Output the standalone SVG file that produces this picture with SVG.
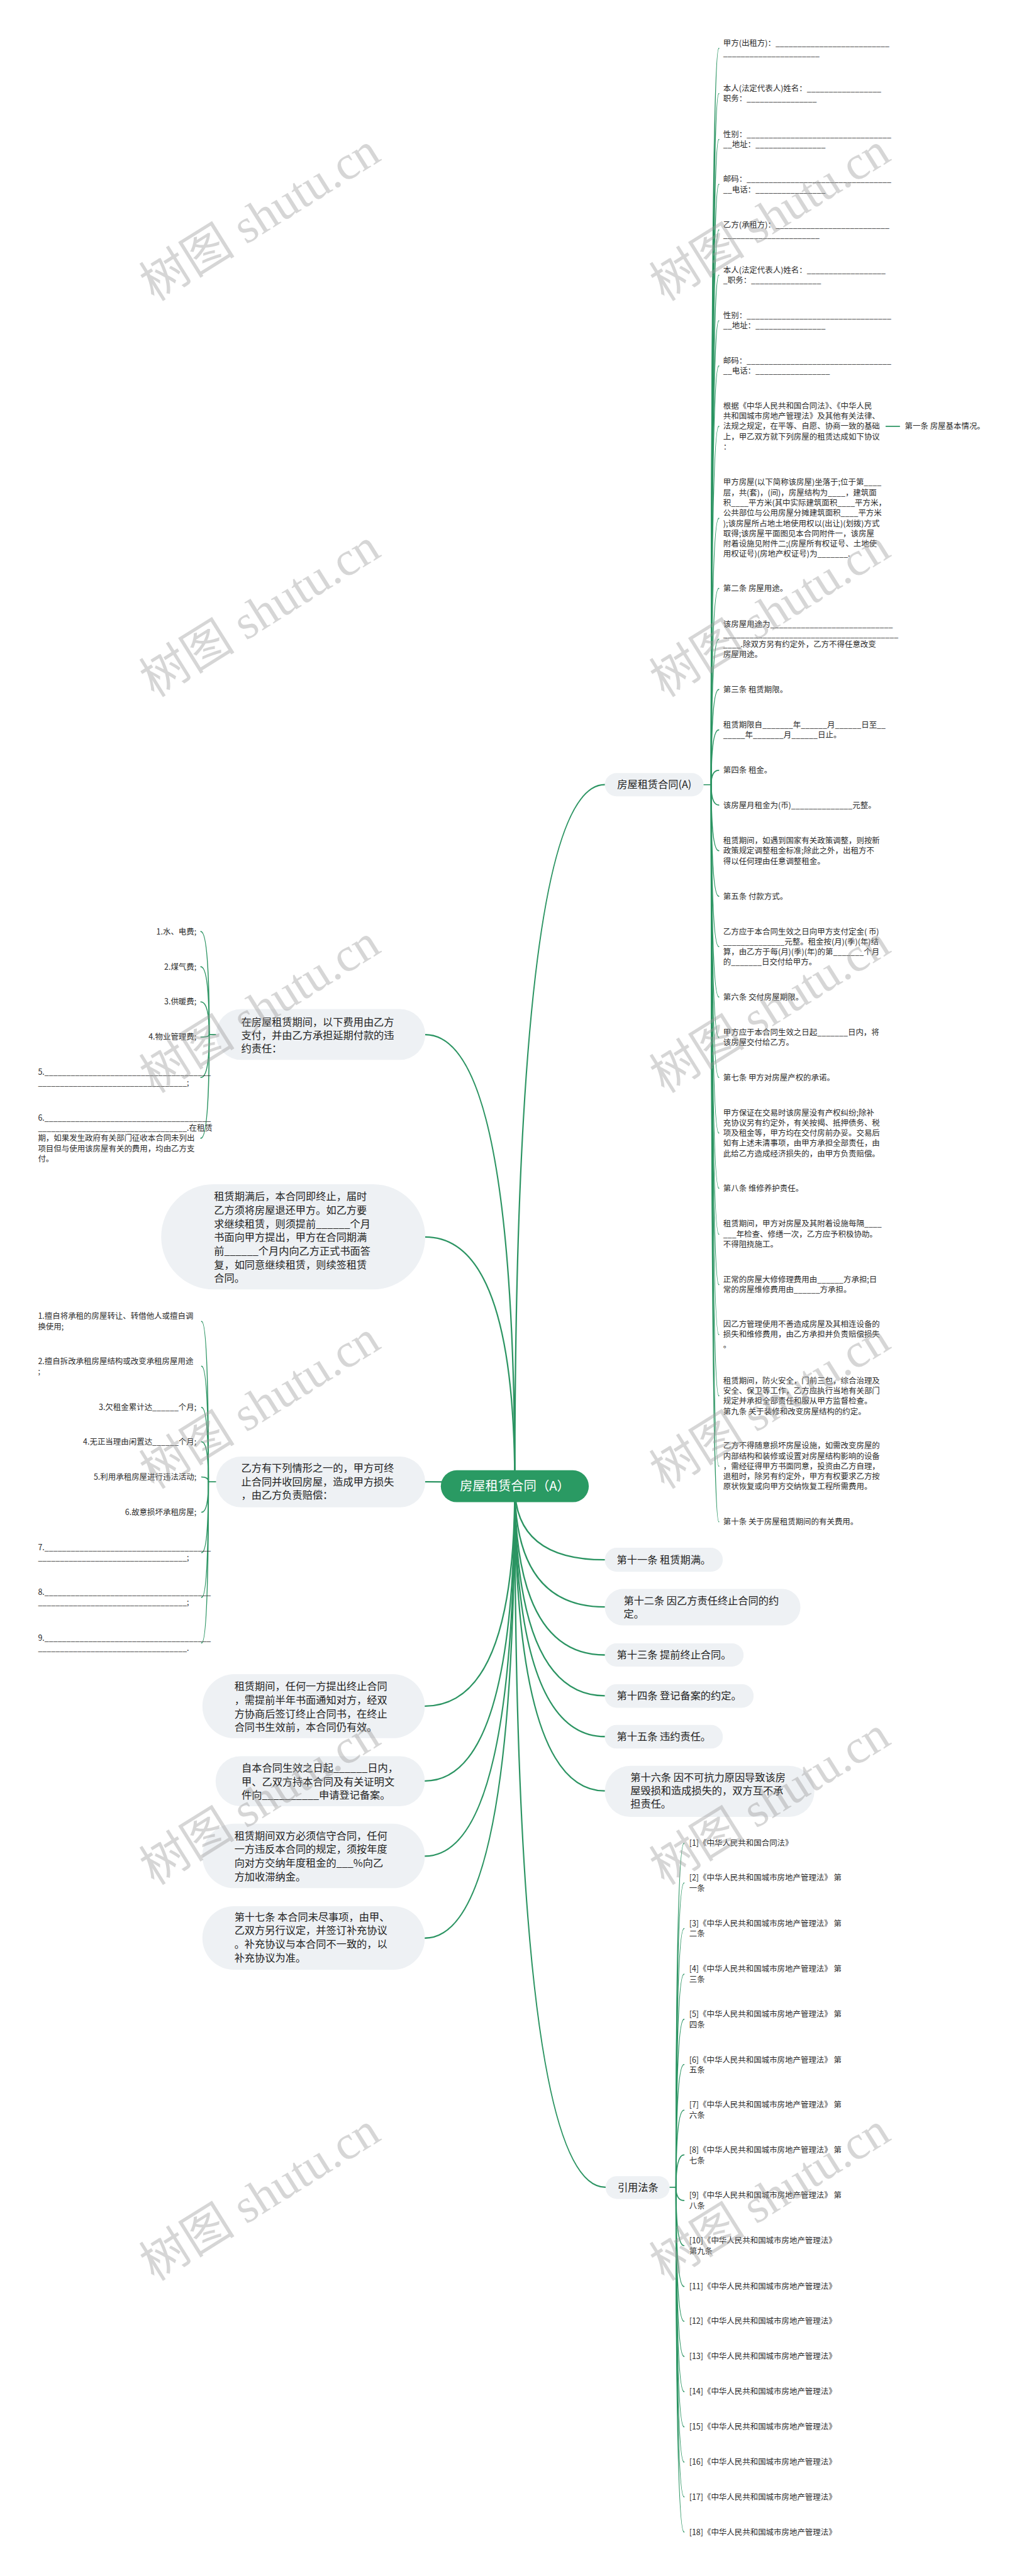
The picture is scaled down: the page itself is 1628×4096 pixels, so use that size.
<svg xmlns="http://www.w3.org/2000/svg" width="1628" height="4096" viewBox="0 0 1628 4096">
<style>
text{font-family:"Noto Sans CJK SC","Noto Sans",sans-serif}
.s{font-size:19.6px;fill:#2b2b2b}
.p{font-size:25.5px;fill:#222}
.pill{fill:#eef1f4}
.c{fill:none;stroke:#2b9462;stroke-width:2.6;stroke-linecap:round}
.cr{fill:none;stroke:#2b9462;stroke-width:3.6;stroke-linecap:round}
#watermarks text{font-family:"Liberation Serif","Noto Sans CJK SC",serif;font-size:120px;fill:#9a9a9a;opacity:0.4}
</style>
<rect width="1628" height="4096" fill="#ffffff"/>
<g transform="scale(0.6359375)">
<g id="connectors">
<path class="cr" d="M1287 3716 Q1287 1962 1512 1962"/>
<path class="cr" d="M1287 3716 Q1287 3900 1512 3900"/>
<path class="cr" d="M1287 3716 Q1287 4018 1512 4018"/>
<path class="cr" d="M1287 3716 Q1287 4138 1512 4138"/>
<path class="cr" d="M1287 3716 Q1287 4240 1512 4240"/>
<path class="cr" d="M1287 3716 Q1287 4342 1512 4342"/>
<path class="cr" d="M1287 3716 Q1287 4478 1512 4478"/>
<path class="cr" d="M1287 3716 Q1287 5469 1514 5469"/>
<path class="cr" d="M1287 3716 Q1287 2587 1063 2587"/>
<path class="cr" d="M1287 3716 Q1287 3093 1063 3093"/>
<path class="cr" d="M1287 3716 Q1287 3705 1063 3705"/>
<path class="cr" d="M1287 3716 Q1287 4266 1062 4266"/>
<path class="cr" d="M1287 3716 Q1287 4453 1062 4453"/>
<path class="cr" d="M1287 3716 Q1287 4641 1062 4641"/>
<path class="cr" d="M1287 3716 Q1287 4846 1062 4846"/>
<path class="c" d="M1759 1962 L1778 1962"/>
<path class="c" d="M1778 1962 Q1778 121 1797 121"/>
<path class="c" d="M1778 1962 Q1778 234 1797 234"/>
<path class="c" d="M1778 1962 Q1778 349 1797 349"/>
<path class="c" d="M1778 1962 Q1778 461 1797 461"/>
<path class="c" d="M1778 1962 Q1778 575 1797 575"/>
<path class="c" d="M1778 1962 Q1778 688 1797 688"/>
<path class="c" d="M1778 1962 Q1778 802 1797 802"/>
<path class="c" d="M1778 1962 Q1778 915 1797 915"/>
<path class="c" d="M1778 1962 Q1778 1066 1797 1066"/>
<path class="c" d="M1778 1962 Q1778 1296 1797 1296"/>
<path class="c" d="M1778 1962 Q1778 1471 1797 1471"/>
<path class="c" d="M1778 1962 Q1778 1598 1797 1598"/>
<path class="c" d="M1778 1962 Q1778 1724 1797 1724"/>
<path class="c" d="M1778 1962 Q1778 1825 1797 1825"/>
<path class="c" d="M1778 1962 Q1778 1926 1797 1926"/>
<path class="c" d="M1778 1962 Q1778 2013 1797 2013"/>
<path class="c" d="M1778 1962 Q1778 2127 1797 2127"/>
<path class="c" d="M1778 1962 Q1778 2241 1797 2241"/>
<path class="c" d="M1778 1962 Q1778 2367 1797 2367"/>
<path class="c" d="M1778 1962 Q1778 2493 1797 2493"/>
<path class="c" d="M1778 1962 Q1778 2594 1797 2594"/>
<path class="c" d="M1778 1962 Q1778 2694 1797 2694"/>
<path class="c" d="M1778 1962 Q1778 2833 1797 2833"/>
<path class="c" d="M1778 1962 Q1778 2971 1797 2971"/>
<path class="c" d="M1778 1962 Q1778 3086 1797 3086"/>
<path class="c" d="M1778 1962 Q1778 3212 1797 3212"/>
<path class="c" d="M1778 1962 Q1778 3337 1797 3337"/>
<path class="c" d="M1778 1962 Q1778 3490 1797 3490"/>
<path class="c" d="M1778 1962 Q1778 3666 1797 3666"/>
<path class="c" d="M1778 1962 Q1778 3805 1797 3805"/>
<path class="c" d="M2215 1066 L2249 1066"/>
<path class="c" d="M540 2587 L523 2587"/>
<path class="c" d="M523 2587 Q523 2329 502 2329"/>
<path class="c" d="M523 2587 Q523 2417 502 2417"/>
<path class="c" d="M523 2587 Q523 2505 502 2505"/>
<path class="c" d="M523 2587 Q523 2593 502 2593"/>
<path class="c" d="M523 2587 Q523 2694 502 2694"/>
<path class="c" d="M523 2587 Q523 2846 502 2846"/>
<path class="c" d="M540 3705 L521 3705"/>
<path class="c" d="M521 3705 Q521 3304 504 3304"/>
<path class="c" d="M521 3705 Q521 3416 504 3416"/>
<path class="c" d="M521 3705 Q521 3519 504 3519"/>
<path class="c" d="M521 3705 Q521 3605 504 3605"/>
<path class="c" d="M521 3705 Q521 3693 504 3693"/>
<path class="c" d="M521 3705 Q521 3781 504 3781"/>
<path class="c" d="M521 3705 Q521 3882 504 3882"/>
<path class="c" d="M521 3705 Q521 3994 504 3994"/>
<path class="c" d="M521 3705 Q521 4108 504 4108"/>
<path class="c" d="M1674 5469 L1690 5469"/>
<path class="c" d="M1690 5469 Q1690 4609 1710 4609"/>
<path class="c" d="M1690 5469 Q1690 4708 1710 4708"/>
<path class="c" d="M1690 5469 Q1690 4822 1710 4822"/>
<path class="c" d="M1690 5469 Q1690 4936 1710 4936"/>
<path class="c" d="M1690 5469 Q1690 5049 1710 5049"/>
<path class="c" d="M1690 5469 Q1690 5162 1710 5162"/>
<path class="c" d="M1690 5469 Q1690 5276 1710 5276"/>
<path class="c" d="M1690 5469 Q1690 5388 1710 5388"/>
<path class="c" d="M1690 5469 Q1690 5502 1710 5502"/>
<path class="c" d="M1690 5469 Q1690 5615 1710 5615"/>
<path class="c" d="M1690 5469 Q1690 5717 1710 5717"/>
<path class="c" d="M1690 5469 Q1690 5804 1710 5804"/>
<path class="c" d="M1690 5469 Q1690 5892 1710 5892"/>
<path class="c" d="M1690 5469 Q1690 5980 1710 5980"/>
<path class="c" d="M1690 5469 Q1690 6068 1710 6068"/>
<path class="c" d="M1690 5469 Q1690 6156 1710 6156"/>
<path class="c" d="M1690 5469 Q1690 6243 1710 6243"/>
<path class="c" d="M1690 5469 Q1690 6331 1710 6331"/>
</g>

<g id="root">
<rect x="1102" y="3676" width="370" height="80" rx="40" fill="#2a9a63"/>
<text x="1287" y="3727" text-anchor="middle" font-size="32" fill="#ffffff">房屋租赁合同（A）</text>
</g>

<g id="branch-a">
<rect class="pill" x="1512" y="1933" width="247" height="58" rx="29"/>
<text class="p" x="1543" y="1971">房屋租赁合同(A)</text>
</g>

<g id="right-items">
<text class="s" x="1808" y="115"><tspan x="1808">甲方(出租方)：__________________________</tspan><tspan x="1808" dy="25.6">______________________</tspan></text>
<text class="s" x="1808" y="228"><tspan x="1808">本人(法定代表人)姓名：_________________</tspan><tspan x="1808" dy="25.6">职务：________________</tspan></text>
<text class="s" x="1808" y="343"><tspan x="1808">性别：_________________________________</tspan><tspan x="1808" dy="25.6">__地址：________________</tspan></text>
<text class="s" x="1808" y="455"><tspan x="1808">邮码：_________________________________</tspan><tspan x="1808" dy="25.6">__电话：________________</tspan></text>
<text class="s" x="1808" y="569"><tspan x="1808">乙方(承租方)：__________________________</tspan><tspan x="1808" dy="25.6">______________________</tspan></text>
<text class="s" x="1808" y="682"><tspan x="1808">本人(法定代表人)姓名：__________________</tspan><tspan x="1808" dy="25.6">_职务：________________</tspan></text>
<text class="s" x="1808" y="796"><tspan x="1808">性别：_________________________________</tspan><tspan x="1808" dy="25.6">__地址：________________</tspan></text>
<text class="s" x="1808" y="909"><tspan x="1808">邮码：_________________________________</tspan><tspan x="1808" dy="25.6">__电话：_________________</tspan></text>
<text class="s" x="1808" y="1022"><tspan x="1808">根据《中华人民共和国合同法》、《中华人民</tspan><tspan x="1808" dy="25.6">共和国城市房地产管理法》及其他有关法律、</tspan><tspan x="1808" dy="25.6">法规之规定，在平等、自愿、协商一致的基础</tspan><tspan x="1808" dy="25.6">上，甲乙双方就下列房屋的租赁达成如下协议</tspan><tspan x="1808" dy="25.6">：</tspan></text>
<text class="s" x="2262" y="1073">第一条 房屋基本情况。</text>
<text class="s" x="1808" y="1213"><tspan x="1808">甲方房屋(以下简称该房屋)坐落于;位于第____</tspan><tspan x="1808" dy="25.6">层，共(套)，(间)，房屋结构为____，建筑面</tspan><tspan x="1808" dy="25.6">积____平方米(其中实际建筑面积____平方米，</tspan><tspan x="1808" dy="25.6">公共部位与公用房屋分摊建筑面积____平方米</tspan><tspan x="1808" dy="25.6">);该房屋所占地土地使用权以(出让)(划拨)方式</tspan><tspan x="1808" dy="25.6">取得;该房屋平面图见本合同附件一，该房屋</tspan><tspan x="1808" dy="25.6">附着设施见附件二;(房屋所有权证号、土地使</tspan><tspan x="1808" dy="25.6">用权证号)(房地产权证号)为_______.</tspan></text>
<text class="s" x="1808" y="1478">第二条 房屋用途。</text>
<text class="s" x="1808" y="1567"><tspan x="1808">该房屋用途为____________________________</tspan><tspan x="1808" dy="25.6">________________________________________</tspan><tspan x="1808" dy="25.6">____.除双方另有约定外，乙方不得任意改变</tspan><tspan x="1808" dy="25.6">房屋用途。</tspan></text>
<text class="s" x="1808" y="1731">第三条 租赁期限。</text>
<text class="s" x="1808" y="1819"><tspan x="1808">租赁期限自_______年______月______日至__</tspan><tspan x="1808" dy="25.6">_____年_______月______日止。</tspan></text>
<text class="s" x="1808" y="1933">第四条 租金。</text>
<text class="s" x="1808" y="2020">该房屋月租金为(币)______________元整。</text>
<text class="s" x="1808" y="2109"><tspan x="1808">租赁期间，如遇到国家有关政策调整，则按新</tspan><tspan x="1808" dy="25.6">政策规定调整租金标准;除此之外，出租方不</tspan><tspan x="1808" dy="25.6">得以任何理由任意调整租金。</tspan></text>
<text class="s" x="1808" y="2248">第五条 付款方式。</text>
<text class="s" x="1808" y="2336"><tspan x="1808">乙方应于本合同生效之日向甲方支付定金( 币)</tspan><tspan x="1808" dy="25.6">______________元整。租金按(月)(季)(年)结</tspan><tspan x="1808" dy="25.6">算，由乙方于每(月)(季)(年)的第_______个月</tspan><tspan x="1808" dy="25.6">的_______日交付给甲方。</tspan></text>
<text class="s" x="1808" y="2500">第六条 交付房屋期限。</text>
<text class="s" x="1808" y="2588"><tspan x="1808">甲方应于本合同生效之日起_______日内，将</tspan><tspan x="1808" dy="25.6">该房屋交付给乙方。</tspan></text>
<text class="s" x="1808" y="2701">第七条 甲方对房屋产权的承诺。</text>
<text class="s" x="1808" y="2789"><tspan x="1808">甲方保证在交易时该房屋没有产权纠纷;除补</tspan><tspan x="1808" dy="25.6">充协议另有约定外，有关按揭、抵押债务、税</tspan><tspan x="1808" dy="25.6">项及租金等，甲方均在交付房前办妥。交易后</tspan><tspan x="1808" dy="25.6">如有上述未清事项，由甲方承担全部责任，由</tspan><tspan x="1808" dy="25.6">此给乙方造成经济损失的，由甲方负责赔偿。</tspan></text>
<text class="s" x="1808" y="2978">第八条 维修养护责任。</text>
<text class="s" x="1808" y="3067"><tspan x="1808">租赁期间，甲方对房屋及其附着设施每隔____</tspan><tspan x="1808" dy="25.6">___年检查、修缮一次，乙方应予积极协助。</tspan><tspan x="1808" dy="25.6">不得阻挠施工。</tspan></text>
<text class="s" x="1808" y="3206"><tspan x="1808">正常的房屋大修修理费用由______方承担;日</tspan><tspan x="1808" dy="25.6">常的房屋维修费用由______方承担。</tspan></text>
<text class="s" x="1808" y="3318"><tspan x="1808">因乙方管理使用不善造成房屋及其相连设备的</tspan><tspan x="1808" dy="25.6">损失和维修费用，由乙方承担并负责赔偿损失</tspan><tspan x="1808" dy="25.6">。</tspan></text>
<text class="s" x="1808" y="3459"><tspan x="1808">租赁期间，防火安全，门前三包，综合治理及</tspan><tspan x="1808" dy="25.6">安全、保卫等工作，乙方应执行当地有关部门</tspan><tspan x="1808" dy="25.6">规定并承担全部责任和服从甲方监督检查。</tspan><tspan x="1808" dy="25.6">第九条 关于装修和改变房屋结构的约定。</tspan></text>
<text class="s" x="1808" y="3622"><tspan x="1808">乙方不得随意损坏房屋设施，如需改变房屋的</tspan><tspan x="1808" dy="25.6">内部结构和装修或设置对房屋结构影响的设备</tspan><tspan x="1808" dy="25.6">，需经征得甲方书面同意，投资由乙方自理，</tspan><tspan x="1808" dy="25.6">退租时，除另有约定外，甲方有权要求乙方按</tspan><tspan x="1808" dy="25.6">原状恢复或向甲方交纳恢复工程所需费用。</tspan></text>
<text class="s" x="1808" y="3812">第十条 关于房屋租赁期间的有关费用。</text>
</g>

<g id="right-pills">
<rect class="pill" x="1512" y="3870" width="295" height="60" rx="30"/>
<text class="p" x="1542" y="3909">第十一条 租赁期满。</text>
<rect class="pill" x="1512" y="3973" width="489" height="91" rx="45"/>
<text class="p" x="1559" y="4011"><tspan x="1559">第十二条 因乙方责任终止合同的约</tspan><tspan x="1559" dy="34">定。</tspan></text>
<rect class="pill" x="1512" y="4109" width="347" height="58" rx="29"/>
<text class="p" x="1542" y="4147">第十三条 提前终止合同。</text>
<rect class="pill" x="1512" y="4211" width="372" height="59" rx="29"/>
<text class="p" x="1542" y="4249">第十四条 登记备案的约定。</text>
<rect class="pill" x="1512" y="4313" width="295" height="59" rx="29"/>
<text class="p" x="1542" y="4351">第十五条 违约责任。</text>
<rect class="pill" x="1512" y="4415" width="524" height="128" rx="64"/>
<text class="p" x="1576" y="4453"><tspan x="1576">第十六条 因不可抗力原因导致该房</tspan><tspan x="1576" dy="33.5">屋毁损和造成损失的，双方互不承</tspan><tspan x="1576" dy="33.5">担责任。</tspan></text>
</g>

<g id="law">
<rect class="pill" x="1514" y="5441" width="160" height="57" rx="28"/>
<text class="p" x="1544" y="5478">引用法条</text>
<text class="s" x="1723" y="4616">[1]《中华人民共和国合同法》</text>
<text class="s" x="1723" y="4702"><tspan x="1723">[2]《中华人民共和国城市房地产管理法》 第</tspan><tspan x="1723" dy="26">一条</tspan></text>
<text class="s" x="1723" y="4816"><tspan x="1723">[3]《中华人民共和国城市房地产管理法》 第</tspan><tspan x="1723" dy="26">二条</tspan></text>
<text class="s" x="1723" y="4930"><tspan x="1723">[4]《中华人民共和国城市房地产管理法》 第</tspan><tspan x="1723" dy="26">三条</tspan></text>
<text class="s" x="1723" y="5043"><tspan x="1723">[5]《中华人民共和国城市房地产管理法》 第</tspan><tspan x="1723" dy="26">四条</tspan></text>
<text class="s" x="1723" y="5157"><tspan x="1723">[6]《中华人民共和国城市房地产管理法》 第</tspan><tspan x="1723" dy="26">五条</tspan></text>
<text class="s" x="1723" y="5270"><tspan x="1723">[7]《中华人民共和国城市房地产管理法》 第</tspan><tspan x="1723" dy="26">六条</tspan></text>
<text class="s" x="1723" y="5383"><tspan x="1723">[8]《中华人民共和国城市房地产管理法》 第</tspan><tspan x="1723" dy="26">七条</tspan></text>
<text class="s" x="1723" y="5496"><tspan x="1723">[9]《中华人民共和国城市房地产管理法》 第</tspan><tspan x="1723" dy="26">八条</tspan></text>
<text class="s" x="1723" y="5609"><tspan x="1723">[10]《中华人民共和国城市房地产管理法》</tspan><tspan x="1723" dy="26">第九条</tspan></text>
<text class="s" x="1723" y="5724">[11]《中华人民共和国城市房地产管理法》</text>
<text class="s" x="1723" y="5811">[12]《中华人民共和国城市房地产管理法》</text>
<text class="s" x="1723" y="5899">[13]《中华人民共和国城市房地产管理法》</text>
<text class="s" x="1723" y="5987">[14]《中华人民共和国城市房地产管理法》</text>
<text class="s" x="1723" y="6075">[15]《中华人民共和国城市房地产管理法》</text>
<text class="s" x="1723" y="6163">[16]《中华人民共和国城市房地产管理法》</text>
<text class="s" x="1723" y="6250">[17]《中华人民共和国城市房地产管理法》</text>
<text class="s" x="1723" y="6338">[18]《中华人民共和国城市房地产管理法》</text>
</g>

<g id="fees">
<rect class="pill" x="540" y="2523" width="523" height="127" rx="63"/>
<text class="p" x="603" y="2564"><tspan x="603">在房屋租赁期间，以下费用由乙方</tspan><tspan x="603" dy="33">支付，并由乙方承担延期付款的违</tspan><tspan x="603" dy="33">约责任：</tspan></text>
<text class="s" x="491" y="2336" text-anchor="end">1.水、电费;</text>
<text class="s" x="491" y="2424" text-anchor="end">2.煤气费;</text>
<text class="s" x="491" y="2512" text-anchor="end">3.供暖费;</text>
<text class="s" x="491" y="2600" text-anchor="end">4.物业管理费;</text>
<text class="s" x="95" y="2688"><tspan x="95">5.______________________________________</tspan><tspan x="95" dy="25.6">__________________________________;</tspan></text>
<text class="s" x="95" y="2802"><tspan x="95">6.______________________________________</tspan><tspan x="95" dy="25.6">__________________________________.在租赁</tspan><tspan x="95" dy="25.6">期，如果发生政府有关部门征收本合同未列出</tspan><tspan x="95" dy="25.6">项目但与使用该房屋有关的费用，均由乙方支</tspan><tspan x="95" dy="25.6">付。</tspan></text>
</g>

<g id="renewal">
<rect class="pill" x="403" y="2961" width="660" height="263" rx="131"/>
<text class="p" x="535" y="3001"><tspan x="535">租赁期满后，本合同即终止，届时</tspan><tspan x="535" dy="34">乙方须将房屋退还甲方。如乙方要</tspan><tspan x="535" dy="34">求继续租赁，则须提前______个月</tspan><tspan x="535" dy="34">书面向甲方提出，甲方在合同期满</tspan><tspan x="535" dy="34">前______个月内向乙方正式书面答</tspan><tspan x="535" dy="34">复，如同意继续租赁，则续签租赁</tspan><tspan x="535" dy="34">合同。</tspan></text>
</g>

<g id="termination">
<rect class="pill" x="540" y="3642" width="523" height="127" rx="63"/>
<text class="p" x="603" y="3680"><tspan x="603">乙方有下列情形之一的，甲方可终</tspan><tspan x="603" dy="34">止合同并收回房屋，造成甲方损失</tspan><tspan x="603" dy="34">，由乙方负责赔偿：</tspan></text>
<text class="s" x="95" y="3298"><tspan x="95">1.擅自将承租的房屋转让、转借他人或擅自调</tspan><tspan x="95" dy="25.6">换使用;</tspan></text>
<text class="s" x="95" y="3410"><tspan x="95">2.擅自拆改承租房屋结构或改变承租房屋用途</tspan><tspan x="95" dy="25.6">;</tspan></text>
<text class="s" x="491" y="3526" text-anchor="end">3.欠租金累计达______个月;</text>
<text class="s" x="491" y="3612" text-anchor="end">4.无正当理由闲置达______个月;</text>
<text class="s" x="491" y="3700" text-anchor="end">5.利用承租房屋进行违法活动;</text>
<text class="s" x="491" y="3788" text-anchor="end">6.故意损坏承租房屋;</text>
<text class="s" x="95" y="3876"><tspan x="95">7.______________________________________</tspan><tspan x="95" dy="25.6">__________________________________;</tspan></text>
<text class="s" x="95" y="3988"><tspan x="95">8.______________________________________</tspan><tspan x="95" dy="25.6">__________________________________;</tspan></text>
<text class="s" x="95" y="4102"><tspan x="95">9.______________________________________</tspan><tspan x="95" dy="25.6">__________________________________.</tspan></text>
</g>

<g id="early-end">
<rect class="pill" x="506" y="4186" width="556" height="160" rx="80"/>
<text class="p" x="586" y="4226"><tspan x="586">租赁期间，任何一方提出终止合同</tspan><tspan x="586" dy="34">，需提前半年书面通知对方，经双</tspan><tspan x="586" dy="34">方协商后签订终止合同书，在终止</tspan><tspan x="586" dy="34">合同书生效前，本合同仍有效。</tspan></text>
</g>
<g id="registration">
<rect class="pill" x="539" y="4391" width="523" height="125" rx="62"/>
<text class="p" x="604" y="4430"><tspan x="604">自本合同生效之日起______日内，</tspan><tspan x="604" dy="34">甲、乙双方持本合同及有关证明文</tspan><tspan x="604" dy="34">件向__________申请登记备案。</tspan></text>
</g>
<g id="penalty">
<rect class="pill" x="506" y="4560" width="556" height="161" rx="80"/>
<text class="p" x="586" y="4599"><tspan x="586">租赁期间双方必须信守合同，任何</tspan><tspan x="586" dy="34">一方违反本合同的规定，须按年度</tspan><tspan x="586" dy="34">向对方交纳年度租金的___%向乙</tspan><tspan x="586" dy="34">方加收滞纳金。</tspan></text>
</g>
<g id="article17">
<rect class="pill" x="506" y="4766" width="556" height="159" rx="79"/>
<text class="p" x="586" y="4802"><tspan x="586">第十七条 本合同未尽事项，由甲、</tspan><tspan x="586" dy="34">乙双方另行议定，并签订补充协议</tspan><tspan x="586" dy="34">。补充协议与本合同不一致的，以</tspan><tspan x="586" dy="34">补充协议为准。</tspan></text>
</g>

<g id="watermarks" text-anchor="middle">
<text transform="translate(650 543) rotate(-32)" y="40">树图 shutu.cn</text>
<text transform="translate(1925 543) rotate(-32)" y="40">树图 shutu.cn</text>
<text transform="translate(650 1533) rotate(-32)" y="40">树图 shutu.cn</text>
<text transform="translate(1925 1533) rotate(-32)" y="40">树图 shutu.cn</text>
<text transform="translate(650 2523) rotate(-32)" y="40">树图 shutu.cn</text>
<text transform="translate(1925 2523) rotate(-32)" y="40">树图 shutu.cn</text>
<text transform="translate(650 3513) rotate(-32)" y="40">树图 shutu.cn</text>
<text transform="translate(1925 3513) rotate(-32)" y="40">树图 shutu.cn</text>
<text transform="translate(650 4503) rotate(-32)" y="40">树图 shutu.cn</text>
<text transform="translate(1925 4503) rotate(-32)" y="40">树图 shutu.cn</text>
<text transform="translate(650 5493) rotate(-32)" y="40">树图 shutu.cn</text>
<text transform="translate(1925 5493) rotate(-32)" y="40">树图 shutu.cn</text>
</g>
</g>
</svg>
